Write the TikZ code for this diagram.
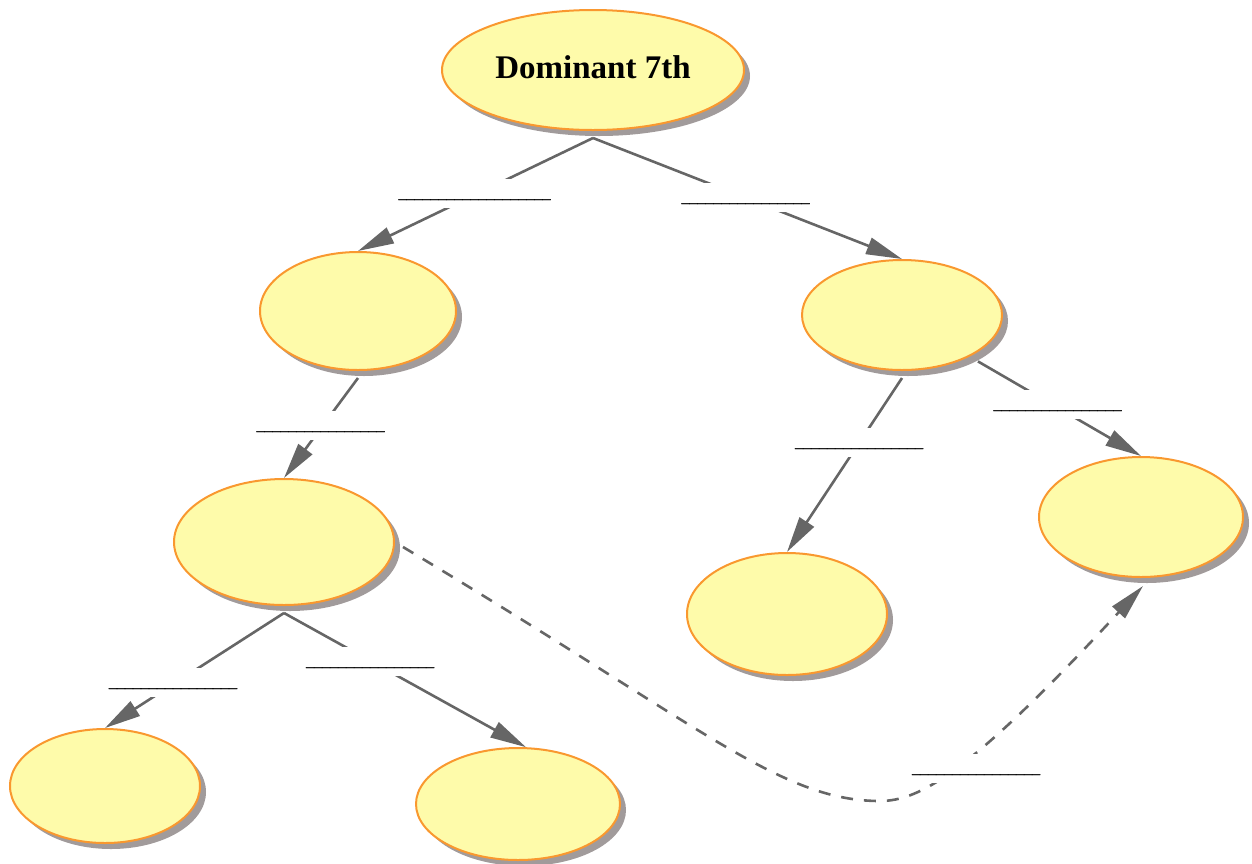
\documentclass[tikz,border=0pt]{standalone}
\usepackage{fontspec}
\setmainfont{Liberation Serif}
\newfontface\hintface[FakeBold=1.6]{Liberation Serif}
\usetikzlibrary{arrows.meta,shapes.geometric,shadows,calc}

\definecolor{bubble}{HTML}{FEFBAA}
\definecolor{rim}{HTML}{F9982F}
\definecolor{shade}{HTML}{A19B9B}
\definecolor{wire}{HTML}{666666}

% blank answer lines
\newcommand\blankline{\_\_\_\_\_\_\_\_\_\_\_\_\_\_\_\_}
\newcommand\blanklong{\_\_\_\_\_\_\_\_\_\_\_\_\_\_\_\_\_\_\_}

\begin{document}
\begin{tikzpicture}[x=1pt,y=-1pt,
  bub/.style={ellipse, draw=rim, line width=2pt, fill=bubble, inner sep=0pt,
    drop shadow={shadow xshift=6pt, shadow yshift=-6pt, fill=shade, opacity=1}},
  link/.style={draw=wire, line width=2.6pt,
    -{Triangle[length=36pt,width=17pt]}},
  hint/.style={fill=white, inner sep=0pt, anchor=base, text height=19.5pt,
    text depth=9.5pt, font=\hintface\fontsize{16}{16}\selectfont}]

\useasboundingbox (0,0) rectangle (1252,863);

% concept bubbles
\node[bub, minimum width=302pt, minimum height=120pt, text depth=6pt,
      font=\fontsize{33}{33}\selectfont\bfseries] (root) at (593,70) {Dominant 7th};
\node[bub, minimum width=196pt, minimum height=118pt] (L1) at (358,311) {};
\node[bub, minimum width=200pt, minimum height=110pt] (R1) at (902,315) {};
\node[bub, minimum width=220pt, minimum height=126pt] (L2) at (284,542) {};
\node[bub, minimum width=200pt, minimum height=122pt] (R2a) at (787,614) {};
\node[bub, minimum width=204pt, minimum height=120pt] (R2b) at (1141,517) {};
\node[bub, minimum width=190pt, minimum height=114pt] (L3a) at (105,786) {};
\node[bub, minimum width=204pt, minimum height=112pt] (L3b) at (518,804) {};

% connectors
\draw[link] ($(root.south)+(0,7)$) -- (L1.north);
\draw[link] ($(root.south)+(0,7)$) -- (R1.north);
\draw[link] ($(L1.south)+(0,7)$) -- (L2.north);
\draw[link] ($(R1.south)+(0,7)$) -- (R2a.north);
\draw[link] ($(R1.-30)+(6,6)$) -- (R2b.north);
\draw[link] ($(L2.south)+(0,7)$) -- (L3a.north);
\draw[link] ($(L2.south)+(0,7)$) -- (L3b.82);
\draw[link, dash pattern=on 12pt off 11pt]
  ($(L2.east)+(8,5)$) .. controls (702,726) and (780,801) .. (880,801)
  .. controls (920,801) and (971,772) .. ($(R2b.south)+(2,8)$);

% connector labels
\node[hint] (tRL) at (474.5,198) {\blanklong};
\node[hint] (tRR) at (745.5,202) {\blankline};
\node[hint] (tL1) at (320.5,430) {\blankline};
\node[hint] (tR1a) at (859,447) {\blankline};
\node[hint] (tR1b) at (1057.5,409) {\blankline};
\node[hint] (tL2a) at (173,687) {\blankline};
\node[hint] (tL2b) at (370,666) {\blankline};
\node[hint] (tD) at (976,773) {\blankline};
\end{tikzpicture}
\end{document}
